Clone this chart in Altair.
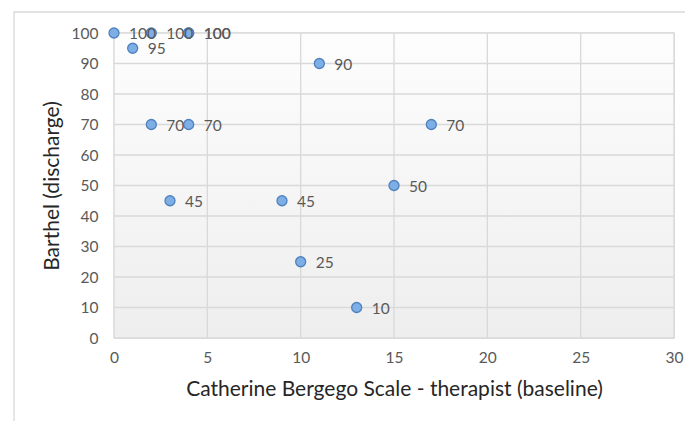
import altair as alt
import pandas as pd

cbs = [0, 2, 4, 4, 1, 11, 2, 4, 17, 15, 3, 9, 10, 13]
barthel = [100, 100, 100, 100, 95, 90, 70, 70, 70, 50, 45, 45, 25, 10]
labels = [str(v) for v in barthel]
x_ticks = [0, 5, 10, 15, 20, 25, 30]
y_ticks = [0, 10, 20, 30, 40, 50, 60, 70, 80, 90, 100]

df = pd.DataFrame({"cbs": cbs, "barthel": barthel, "label": labels})

FONT = "Lato"
W, H = 560, 305
GRID = "#d9d9d9"

xscale = alt.Scale(domain=[0, 30], nice=False, zero=True)
yscale = alt.Scale(domain=[0, 100], nice=False)

xaxis = alt.Axis(values=x_ticks,
                 title="Catherine Bergego Scale - therapist (baseline)",
                 grid=False, domain=False, ticks=False, labelOverlap=False,
                 labelFlush=False, labelPadding=12, titlePadding=13)
yaxis = alt.Axis(values=y_ticks,
                 title="Barthel (discharge)",
                 grid=False, domain=False, ticks=False, labelOverlap=False,
                 labelFlush=False, labelPadding=16, titlePadding=9)

frame = alt.Chart(pd.DataFrame({"a": [0]})).mark_rect(
    fill="transparent", stroke=GRID, strokeWidth=1.3
).encode(
    x=alt.value(-100), x2=alt.value(W + 60),
    y=alt.value(-21), y2=alt.value(H + 150),
)

bg = alt.Chart(pd.DataFrame({"a": [0]})).mark_rect(
    color=alt.LinearGradient(
        gradient="linear",
        stops=[alt.GradientStop(color="#fdfdfd", offset=0),
               alt.GradientStop(color="#eeeeee", offset=1)],
        x1=0, x2=0, y1=0, y2=1,
    ),
).encode(
    x=alt.value(0), x2=alt.value(W), y=alt.value(0), y2=alt.value(H)
)

vgrid = alt.Chart(pd.DataFrame({"t": x_ticks})).mark_rule(
    color=GRID, strokeWidth=1.3
).encode(x=alt.X("t:Q", scale=xscale, axis=xaxis))

hgrid = alt.Chart(pd.DataFrame({"t": y_ticks})).mark_rule(
    color=GRID, strokeWidth=1.3
).encode(y=alt.Y("t:Q", scale=yscale, axis=yaxis))

points = alt.Chart(df).mark_circle(
    size=100, color="#7eaee6", stroke="#4f81bd", strokeWidth=1.3, opacity=1
).encode(
    x=alt.X("cbs:Q", scale=xscale, axis=xaxis),
    y=alt.Y("barthel:Q", scale=yscale, axis=yaxis),
)

text = alt.Chart(df).mark_text(
    align="left", baseline="middle", dx=15, dy=1, font=FONT, fontSize=15.5,
    color="#595959"
).encode(x=alt.X("cbs:Q", scale=xscale, axis=xaxis),
         y=alt.Y("barthel:Q", scale=yscale, axis=yaxis),
         text="label:N")

chart = alt.layer(frame, bg, vgrid, hgrid, points, text).properties(
    width=W, height=H,
    padding={"left": 106, "top": 25, "right": 11, "bottom": 85},
    autosize=alt.AutoSizeParams(type="none"),
).configure_view(stroke=GRID, strokeWidth=1.3).configure_axis(
    labelFont=FONT, labelFontSize=15.5, labelColor="#595959",
    titleFont=FONT, titleFontSize=21, titleColor="#262626", titleFontWeight="normal",
)

chart.save("out.html", embed_options={"renderer": "svg", "actions": False})
